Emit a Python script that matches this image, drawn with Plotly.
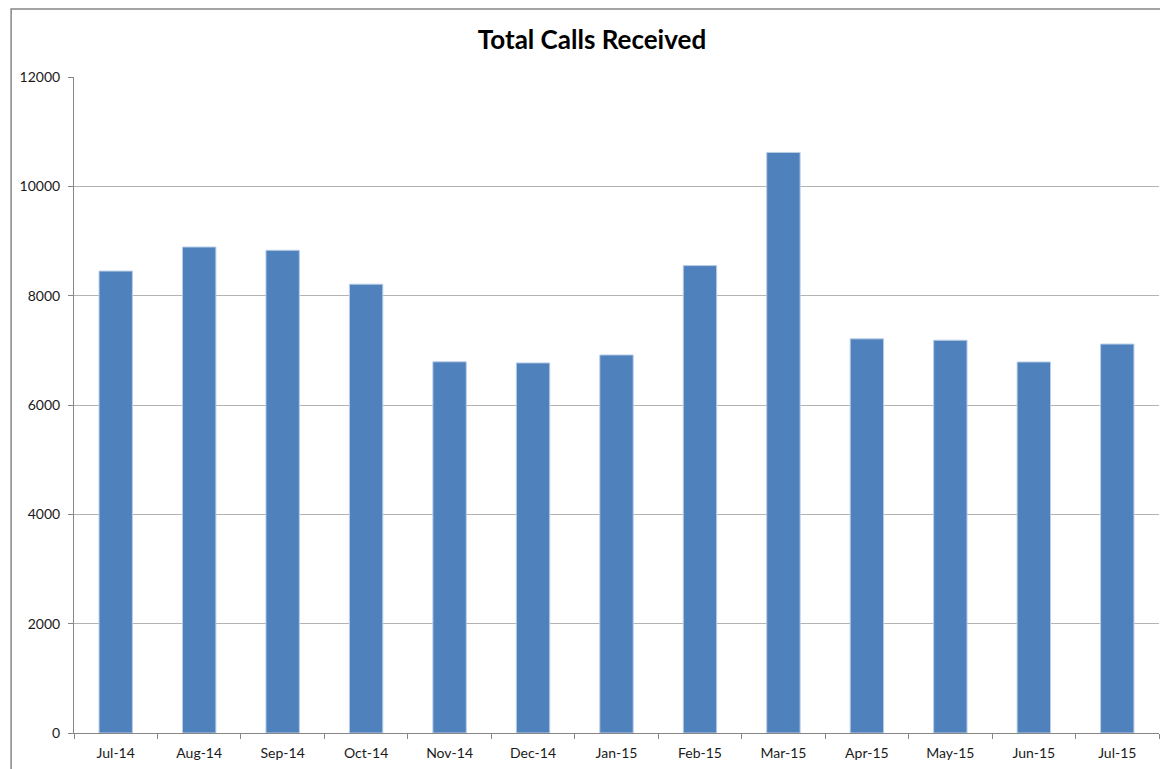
import plotly.graph_objects as go

months = ["Jul-14", "Aug-14", "Sep-14", "Oct-14", "Nov-14", "Dec-14", "Jan-15",
          "Feb-15", "Mar-15", "Apr-15", "May-15", "Jun-15", "Jul-15"]
calls = [8450, 8890, 8830, 8210, 6790, 6770, 6915, 8550, 10620, 7210, 7185, 6787, 7115]
y_ticks = [0, 2000, 4000, 6000, 8000, 10000, 12000]

W, H = 1168, 769
OFF = 8  # page body margin
# target page positions of plot area
PX0, PX1, PY0, PY1 = 72, 1159, 77, 733
L, T = PX0 - OFF, PY0 - OFF
R = (OFF + W) - PX1
B = (OFF + H) - PY1
pw, ph = PX1 - PX0, PY1 - PY0

fig = go.Figure(go.Bar(
    x=months, y=calls,
    marker=dict(color="#4F81BD", line=dict(color="#B9CDE5", width=1)),
    width=0.4,
))

fig.update_layout(
    width=W, height=H,
    margin=dict(l=L, r=R, t=T, b=B),
    paper_bgcolor="white", plot_bgcolor="white",
    showlegend=False,
    font=dict(family="Lato, Open Sans, sans-serif", size=14, color="#1a1a1a"),
    title=dict(text="<b>Total Calls Received</b>", x=(592 - OFF) / W, xref="container", xanchor="center",
               y=1 - (40 - OFF) / H, yref="container", yanchor="middle",
               font=dict(size=26, color="black", family="Lato, Open Sans, sans-serif")),
    xaxis=dict(
        showline=True, linecolor="#868686", linewidth=1,
        ticks="outside", ticklen=5, tickcolor="#868686",
        tickson="boundaries", showgrid=False,
        tickfont=dict(size=14), ticklabelstandoff=7,
    ),
    yaxis=dict(
        range=[0, 12000], tickvals=y_ticks, ticktext=[str(v) for v in y_ticks],
        showline=True, linecolor="#868686", linewidth=1,
        ticks="outside", ticklen=5, tickcolor="#868686",
        showgrid=True, gridcolor="#B3B3B3", gridwidth=1,
        zeroline=False, tickfont=dict(size=14), ticklabelstandoff=5,
    ),
    shapes=[dict(
        type="rect", xref="paper", yref="paper",
        x0=(9 - PX0) / pw, x1=(1180 - PX0) / pw,
        y0=-0.2, y1=(PY1 - 9) / ph,
        line=dict(color="#868686", width=1.5), fillcolor="rgba(0,0,0,0)",
    )],
)

fig.write_html("out.html")
